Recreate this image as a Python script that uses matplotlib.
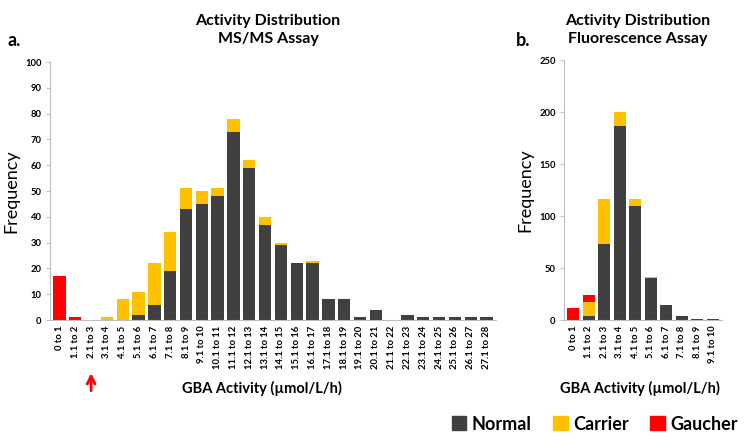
import numpy as np
import matplotlib
matplotlib.use("Agg")
import matplotlib.pyplot as plt
from matplotlib.patches import Patch

plt.rcParams['font.family'] = ['Lato', 'DejaVu Sans']

# panel a: MS/MS assay
bins_a = ['0 to 1'] + ['%d.1 to %d' % (i, i + 1) for i in range(1, 28)]
normal_a = [0, 0, 0, 0, 0, 2, 6, 19, 43, 45, 48, 73, 59, 37, 29, 22, 22, 8, 8, 1, 4, 0, 2, 1, 1, 1, 1, 1]
carrier_a = [0, 0, 0, 1, 8, 9, 16, 15, 8, 5, 3, 5, 3, 3, 1, 0, 1, 0, 0, 0, 0, 0, 0, 0, 0, 0, 0, 0]
gaucher_a = [17, 1, 0, 0, 0, 0, 0, 0, 0, 0, 0, 0, 0, 0, 0, 0, 0, 0, 0, 0, 0, 0, 0, 0, 0, 0, 0, 0]

# panel b: fluorescence assay
bins_b = ['0 to 1'] + ['%d.1 to %d' % (i, i + 1) for i in range(1, 10)]
normal_b = [0, 4, 73, 187, 110, 40, 14, 4, 1, 1]
carrier_b = [0, 13, 43, 13, 6, 1, 0, 0, 0, 0]
gaucher_b = [12, 7, 0, 0, 0, 0, 0, 0, 0, 0]

c_normal = '#404040'
c_carrier = '#FFC000'
c_gaucher = '#FF0000'


def stacked(ax, labels, normal, carrier, gaucher, ymax, step):
    x = np.arange(len(labels))
    normal = np.array(normal)
    carrier = np.array(carrier)
    gaucher = np.array(gaucher)
    w = 0.78
    ax.bar(x, normal, w, color=c_normal)
    ax.bar(x, carrier, w, bottom=normal, color=c_carrier)
    ax.bar(x, gaucher, w, bottom=normal + carrier, color=c_gaucher)
    ax.set_xlim(-0.6, len(labels) - 0.4)
    ax.set_ylim(0, ymax)
    ax.set_yticks(np.arange(0, ymax + 1, step))
    ax.set_xticks(x)
    ax.set_xticklabels(labels, rotation=90, fontsize=6.8, fontweight='bold')
    for t in ax.get_yticklabels():
        t.set_fontsize(6.8)
        t.set_fontweight('bold')
    ax.tick_params(axis='x', length=0, pad=4)
    ax.tick_params(axis='y', length=3, color='#bfbfbf', pad=3)
    for s in ['top', 'right']:
        ax.spines[s].set_visible(False)
    for s in ['left', 'bottom']:
        ax.spines[s].set_color('#bfbfbf')
    ax.set_ylabel('Frequency', fontsize=13, labelpad=4)


fig = plt.figure(figsize=(7.54, 4.44), dpi=100)
ax1 = fig.add_axes([50 / 754, 1 - 320 / 444, 446 / 754, 258 / 444])
ax2 = fig.add_axes([564 / 754, 1 - 320 / 444, 158 / 754, 260 / 444])

stacked(ax1, bins_a, normal_a, carrier_a, gaucher_a, 100, 10)
stacked(ax2, bins_b, normal_b, carrier_b, gaucher_b, 250, 50)

fig.text(268 / 754, 1 - 30 / 444, 'Activity Distribution\nMS/MS Assay', ha='center', va='center',
         fontsize=11.5, fontweight='bold', linespacing=1.3)
fig.text(638 / 754, 1 - 30 / 444, 'Activity Distribution\nFluorescence Assay', ha='center', va='center',
         fontsize=11.5, fontweight='bold', linespacing=1.3)
fig.text(8 / 754, 1 - 40 / 444, 'a.', fontsize=13, fontweight='bold', va='center')
fig.text(516 / 754, 1 - 40 / 444, 'b.', fontsize=13, fontweight='bold', va='center')

fig.text(262 / 754, 1 - 388 / 444, 'GBA Activity (µmol/L/h)', ha='center', va='center',
         fontsize=10.5, fontweight='bold')
fig.text(640 / 754, 1 - 388 / 444, 'GBA Activity (µmol/L/h)', ha='center', va='center',
         fontsize=10.5, fontweight='bold')

# red arrow under the "2.1 to 3" bin
ax1.annotate('', xy=(2, -0.195), xytext=(2, -0.285), xycoords=('data', 'axes fraction'),
             textcoords=('data', 'axes fraction'),
             arrowprops=dict(arrowstyle='->', color=c_gaucher, lw=2, mutation_scale=14))

handles = [Patch(color=c_normal, label='Normal'), Patch(color=c_carrier, label='Carrier'),
           Patch(color=c_gaucher, label='Gaucher')]
fig.legend(handles=handles, loc='center right', bbox_to_anchor=(1.0, 1 - 424 / 444), ncol=3,
           frameon=False, prop={'size': 13, 'weight': 'bold'}, handlelength=0.8, handleheight=0.8,
           handletextpad=0.3, columnspacing=1.2)

fig.savefig('out.png', dpi=100)
